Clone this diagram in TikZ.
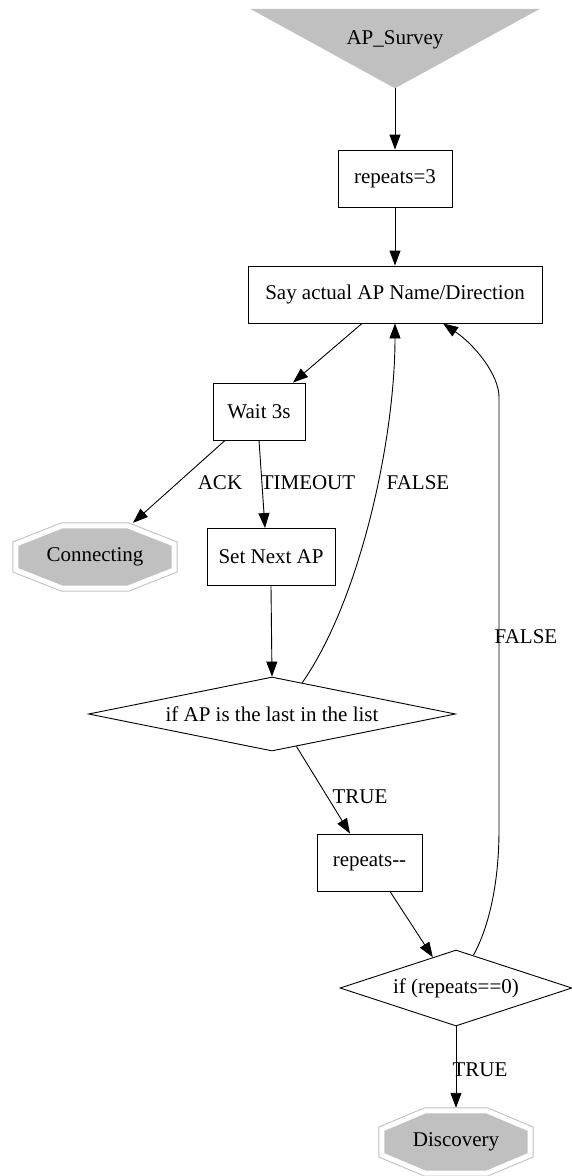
\documentclass[tikz,border=0pt]{standalone}
\usepackage{fontspec}
\setmainfont{Liberation Serif}
\usetikzlibrary{shapes.geometric,arrows.meta,calc,backgrounds}
\definecolor{nodegray}{RGB}{192,192,192}

\begin{document}
\begin{tikzpicture}[x=1pt,y=-1pt,
  font=\fontsize{21}{25}\selectfont,
  stepbox/.style={draw, rectangle, minimum height=57pt, inner sep=0pt, line width=0.9pt},
  testbox/.style={draw, diamond, aspect=5, inner sep=0pt, line width=0.9pt},
  termbox/.style={rectangle, minimum width=#1, minimum height=68pt, inner sep=0pt},
  termline/.style={fill=nodegray, draw=nodegray, line width=1pt, double=white, double distance=5pt},
  lbl/.style={inner sep=0pt},
  flow/.style={line width=0.9pt, -{Triangle[length=15pt,width=11pt]}}]
  \useasboundingbox (0,0) rectangle (571,1176);

% start node: inverted triangle
  \filldraw[nodegray] (251,9) -- (539,9) -- (395,88) -- cycle;
  \node (survey) at (395,40) {AP\_Survey};
  \coordinate (apex) at (395,88);

% boxes
  \node[stepbox, minimum width=114pt] (rep3)   at (395,178.5) {repeats=3};
  \node[stepbox, minimum width=294pt] (say)    at (395,294.5) {Say actual AP Name/Direction};
  \node[stepbox, minimum width=92pt]  (wait)   at (259,411.5) {Wait 3s};
  \node[stepbox, minimum width=128pt] (next)   at (271,557)   {Set Next AP};
  \node[stepbox, minimum width=105pt] (repdec) at (369.5,862.5) {repeats-{}-};

% tests
  \node[testbox, minimum width=367pt, minimum height=74pt] (last) at (272,714) {if AP is the last in the list};
  \node[testbox, minimum width=232pt, minimum height=76pt] (zero) at (456,988) {if (repeats==0)};

% end states (double octagons)
  \node[termbox=164pt] (conn) at (95,557)   {Connecting};
  \node[termbox=154pt] (disc) at (456,1142) {Discovery};
  \begin{scope}[on background layer]
  \foreach \t in {conn,disc} {
    \coordinate (nw) at ($(\t.north west)+(3pt,-3pt)$);
    \coordinate (se) at ($(\t.south east)+(-3pt,3pt)$);
    \filldraw[termline] ($(nw)!0.293!(nw -| se)$) -- ($(nw)!0.707!(nw -| se)$)
      -- ($(nw -| se)!0.293!(se)$) -- ($(nw -| se)!0.707!(se)$)
      -- ($(se)!0.293!(se -| nw)$) -- ($(se)!0.707!(se -| nw)$)
      -- ($(se -| nw)!0.293!(nw)$) -- ($(se -| nw)!0.707!(nw)$) -- cycle;
  }
  \end{scope}

% edges
  \draw[flow] (apex) -- (rep3);
  \draw[flow] (rep3) -- (say);
  \draw[flow] ([xshift=-33pt]say.south) -- ([xshift=34pt]wait.north);
  \draw[flow] ([xshift=-34pt]wait.south) -- ([xshift=38pt]conn.north)
    node[lbl, at={(220,483)}] {ACK};
  \draw[flow] (wait.south) -- ([xshift=-6pt]next.north)
    node[lbl, at={(308,483)}] {TIMEOUT};
  \draw[flow] (next.south) -- (last.north);
  \draw[flow] (last.46) .. controls (360,600) and (395,440) .. (say.south)
    node[lbl, at={(418,483)}] {FALSE};
  \draw[flow] (last.-53) -- ([xshift=-19.5pt]repdec.north)
    node[lbl, at={(360,797)}] {TRUE};
  \draw[flow] ([xshift=20.5pt]repdec.south) -- (zero.127);
  \draw[flow] (zero.62) .. controls (490,925) and (499,880) .. (499,830) -- (499,397)
    .. controls (499,375) and (475,345) .. ([xshift=48pt]say.south)
    node[lbl, at={(526,637)}] {FALSE};
  \draw[flow] (zero) -- (disc)
    node[lbl, at={(480,1070)}] {TRUE};

\end{tikzpicture}
\end{document}
